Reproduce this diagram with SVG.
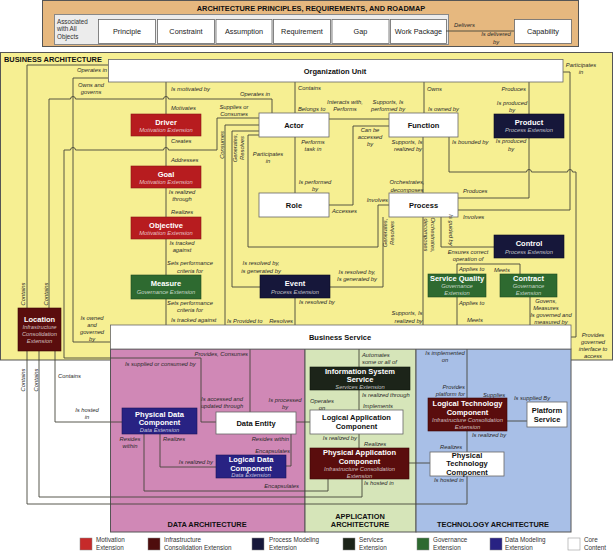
<svg xmlns="http://www.w3.org/2000/svg" width="614" height="552" viewBox="0 0 614 552">
<style>
.ln{fill:none;stroke:#45453a;stroke-width:0.9}
.lb{font-family:"Liberation Sans",Arial,sans-serif;font-style:italic;font-size:5.8px;fill:#2a2a2a}
.m{text-anchor:middle}
.e{text-anchor:end}
.nt{font-family:"Liberation Sans",Arial,sans-serif;font-weight:bold;font-size:7.5px;text-anchor:middle}
.ns{font-family:"Liberation Sans",Arial,sans-serif;font-style:italic;font-size:5.8px;text-anchor:middle}
.tx{font-family:"Liberation Sans",Arial,sans-serif;font-size:7.3px;text-anchor:middle;fill:#222}
.ti{font-family:"Liberation Sans",Arial,sans-serif;font-weight:bold;font-size:7.4px;fill:#111}
.lg{font-family:"Liberation Sans",Arial,sans-serif;font-size:6.3px;fill:#333}
.w{fill:#fff}
.k{fill:#111}
.sub{fill:#fff;fill-opacity:0.72}
.core{fill:#fff;stroke:#666;stroke-width:0.8}
.mot{fill:#b71c1f;stroke:#8a1416;stroke-width:0.6}
.inf{fill:#5a0d0d;stroke:#3a0606;stroke-width:0.6}
.pro{fill:#16173a;stroke:#0b0c22;stroke-width:0.6}
.gov{fill:#2e6a30;stroke:#1f4a21;stroke-width:0.6}
.svc{fill:#1c2419;stroke:#0e140c;stroke-width:0.6}
.dat{fill:#282283;stroke:#18145a;stroke-width:0.6}
</style>

<g id="principles">
<rect x="42.5" y="0.5" width="536" height="46" fill="#e6b87f" stroke="#555"/>
<text x="311" y="10.5" class="ti" text-anchor="middle">ARCHITECTURE PRINCIPLES, REQUIREMENTS, AND ROADMAP</text>
<rect x="54.5" y="14.5" width="394" height="30" fill="#ececec" stroke="#888"/>
<text x="57" y="24" class="lg">Associated</text>
<text x="57" y="31" class="lg">with All</text>
<text x="57" y="38.5" class="lg">Objects</text>
</g>
<g id="principle"><rect x="98.5" y="19.5" width="57" height="24" class="core"/><text x="127" y="34" class="tx">Principle</text></g>
<g id="constraint"><rect x="157.5" y="19.5" width="57" height="24" class="core"/><text x="186" y="34" class="tx">Constraint</text></g>
<g id="assumption"><rect x="216" y="19.5" width="56" height="24" class="core"/><text x="244" y="34" class="tx">Assumption</text></g>
<g id="requirement"><rect x="273.5" y="19.5" width="57" height="24" class="core"/><text x="302" y="34" class="tx">Requirement</text></g>
<g id="gap"><rect x="332" y="19.5" width="57" height="24" class="core"/><text x="360.5" y="34" class="tx">Gap</text></g>
<g id="workpackage"><rect x="390.5" y="19.5" width="56" height="24" class="core"/><text x="418.5" y="34" class="tx">Work Package</text></g>
<g id="capability"><rect x="514.5" y="19.5" width="57" height="24" class="core"/><text x="543" y="34" class="tx">Capability</text></g>

<g id="regions">
<rect x="0.5" y="52.5" width="612" height="307.5" fill="#f6ef92" stroke="#555"/>
<text x="4" y="62" class="ti">BUSINESS ARCHITECTURE</text>
<rect x="110.5" y="349" width="194.5" height="183" fill="#d088b6" stroke="#555"/>
<rect x="305" y="349" width="111" height="183" fill="#d6e5b9" stroke="#555"/>
<rect x="416" y="349" width="155" height="183" fill="#a8bfe7" stroke="#555"/>
<text x="207" y="527" class="ti" text-anchor="middle">DATA ARCHITECTURE</text>
<text x="360" y="519" class="ti" text-anchor="middle">APPLICATION</text>
<text x="360" y="527" class="ti" text-anchor="middle">ARCHITECTURE</text>
<text x="493" y="527" class="ti" text-anchor="middle">TECHNOLOGY ARCHITECTURE</text>
</g>

<g id="connectors">
<path class="ln" d="M446,31 H514"/>
<path class="ln" d="M108,65 H27 V308"/>
<path class="ln" d="M108,78 H73 V342 H110"/>
<path class="ln" d="M272,113 V99 H168.5 a2.5,2.5 0 0 0 -5,0 H75.5 a2.5,2.5 0 0 0 -5,0 H49 V308"/>
<path class="ln" d="M166,82 V325"/>
<path class="ln" d="M259,118 H217 V150 H168.5 a2.5,2.5 0 0 0 -5,0 H75.5 a2.5,2.5 0 0 0 -5,0 H64 V358 H201 V422 H216"/>
<path class="ln" d="M259,125 H225 V325"/>
<path class="ln" d="M259,131 H232 V287 H260"/>
<path class="ln" d="M259,135 H248 V247 H378 V205 H389"/>
<path class="ln" d="M295,82 V113"/>
<path class="ln" d="M295,137 V193"/>
<path class="ln" d="M329,119 H389"/>
<path class="ln" d="M329,205 H353 V126 H389"/>
<path class="ln" d="M424,82 V113"/>
<path class="ln" d="M529,82 V114"/>
<path class="ln" d="M563,72 H570 V210 H458"/>
<path class="ln" d="M449,137 V172 H526.5 a2.5,2.5 0 0 1 5,0 H567.5 a2.5,2.5 0 0 1 5,0 H576 V337 H571"/>
<path class="ln" d="M529,138 V198 H458"/>
<path class="ln" d="M423,137 V193"/>
<path class="ln" d="M423,217 V325"/>
<path class="ln" d="M441,217 V247 H494"/>
<path class="ln" d="M383,217 V287 H330"/>
<path class="ln" d="M295,298 V325"/>
<path class="ln" d="M457,297 V325"/>
<path class="ln" d="M530,297 V325"/>
<path class="ln" d="M457,274 V264 H520 V274"/>
<path class="ln" d="M250,349 V412"/>
<path class="ln" d="M296,422 H310"/>
<path class="ln" d="M359,349 V367"/>
<path class="ln" d="M359,390 V410"/>
<path class="ln" d="M359,434 V448"/>
<path class="ln" d="M144,434 V491 H328 V479"/>
<path class="ln" d="M160,434 V467 H216"/>
<path class="ln" d="M55,351 V422 H122"/>
<path class="ln" d="M39,351 V497 H362 V479"/>
<path class="ln" d="M27,351 V504 H467 V476"/>
<path class="ln" d="M467,349 V398"/>
<path class="ln" d="M507,421 H527"/>
<path class="ln" d="M467,431 V452"/>
<path class="ln" d="M409,463 H430"/>
<path class="ln" d="M291,434 V466 H286"/>
</g>

<g id="orgunit"><rect x="108.5" y="59.5" width="454.5" height="22.5" class="core"/><text x="335" y="74" class="nt k">Organization Unit</text></g>
<g id="driver"><rect x="131" y="114" width="70" height="22" class="mot"/><text x="166" y="124.5" class="nt w">Driver</text><text x="166" y="132.3" class="ns sub">Motivation Extension</text></g>
<g id="goal"><rect x="131" y="166" width="70" height="22" class="mot"/><text x="166" y="176.5" class="nt w">Goal</text><text x="166" y="184.3" class="ns sub">Motivation Extension</text></g>
<g id="objective"><rect x="131" y="217" width="70" height="22" class="mot"/><text x="166" y="227.5" class="nt w">Objective</text><text x="166" y="235.3" class="ns sub">Motivation Extension</text></g>
<g id="measure"><rect x="131" y="275" width="70" height="24" class="gov"/><text x="166" y="286" class="nt w">Measure</text><text x="166" y="294" class="ns sub">Governance Extension</text></g>
<g id="location"><rect x="18" y="308" width="43" height="43" class="inf"/><text x="39.5" y="321.5" class="nt w">Location</text><text x="39.5" y="329" class="ns sub">Infrastructure</text><text x="39.5" y="336" class="ns sub">Consolidation</text><text x="39.5" y="343" class="ns sub">Extension</text></g>
<g id="actor"><rect x="259" y="113" width="70" height="24" class="core"/><text x="294" y="128" class="nt k">Actor</text></g>
<g id="function"><rect x="389" y="113" width="69" height="24" class="core"/><text x="423.5" y="128" class="nt k">Function</text></g>
<g id="product"><rect x="494" y="114" width="70" height="24" class="pro"/><text x="529" y="124.5" class="nt w">Product</text><text x="529" y="132" class="ns sub">Process Extension</text></g>
<g id="role"><rect x="259" y="193" width="70" height="24" class="core"/><text x="294" y="208" class="nt k">Role</text></g>
<g id="process"><rect x="389" y="193" width="69" height="24" class="core"/><text x="423.5" y="208" class="nt k">Process</text></g>
<g id="control"><rect x="494" y="235" width="70" height="23" class="pro"/><text x="529" y="245.5" class="nt w">Control</text><text x="529" y="253.5" class="ns sub">Process Extension</text></g>
<g id="event"><rect x="260" y="275" width="70" height="23" class="pro"/><text x="295" y="285.5" class="nt w">Event</text><text x="295" y="293.5" class="ns sub">Process Extension</text></g>
<g id="servicequality"><rect x="428" y="274" width="58" height="23" class="gov"/><text x="457" y="281.3" class="nt w">Service Quality</text><text x="457" y="288.3" class="ns sub">Governance</text><text x="457" y="294.8" class="ns sub">Extension</text></g>
<g id="contract"><rect x="500" y="274" width="57" height="23" class="gov"/><text x="528.5" y="281.3" class="nt w">Contract</text><text x="528.5" y="288.3" class="ns sub">Governance</text><text x="528.5" y="294.8" class="ns sub">Extension</text></g>
<g id="businessservice"><rect x="110.5" y="325" width="460.5" height="24" class="core"/><text x="340" y="340" class="nt k">Business Service</text></g>
<g id="infosysservice"><rect x="310" y="367" width="100" height="23" class="svc"/><text x="360" y="373.5" class="nt w">Information System</text><text x="360" y="381.5" class="nt w">Service</text><text x="360" y="388.6" class="ns sub">Services Extension</text></g>
<g id="logicalappcomp"><rect x="310" y="410" width="93" height="24" class="core"/><text x="356.5" y="419.8" class="nt k">Logical Application</text><text x="356.5" y="428.5" class="nt k">Component</text></g>
<g id="physicalappcomp"><rect x="310" y="448" width="99" height="31" class="inf"/><text x="359.5" y="455.3" class="nt w">Physical Application</text><text x="359.5" y="463.8" class="nt w">Component</text><text x="359.5" y="471" class="ns sub">Infrastructure Consolidation</text><text x="359.5" y="477.5" class="ns sub">Extension</text></g>
<g id="physicaldatacomp"><rect x="122" y="408" width="75" height="26" class="dat"/><text x="159.5" y="416.5" class="nt w">Physical Data</text><text x="159.5" y="425.3" class="nt w">Component</text><text x="159.5" y="432.3" class="ns sub">Data Extension</text></g>
<g id="dataentity"><rect x="216" y="412" width="80" height="22" class="core"/><text x="256" y="425.5" class="nt k">Data Entity</text></g>
<g id="logicaldatacomp"><rect x="216" y="455" width="70" height="23" class="dat"/><text x="251" y="462" class="nt w">Logical Data</text><text x="251" y="470.5" class="nt w">Component</text><text x="251" y="477" class="ns sub">Data Extension</text></g>
<g id="logicaltechcomp"><rect x="428" y="398" width="79" height="33" class="inf"/><text x="467.5" y="406" class="nt w">Logical Technology</text><text x="467.5" y="414.5" class="nt w">Component</text><text x="467.5" y="421.8" class="ns sub">Infrastructure Consolidation</text><text x="467.5" y="428.5" class="ns sub">Extension</text></g>
<g id="platformservice"><rect x="527" y="402" width="40" height="25" class="core"/><text x="547" y="412.5" class="nt k">Platform</text><text x="547" y="422" class="nt k">Service</text></g>
<g id="physicaltechcomp"><rect x="430" y="452" width="74" height="24" class="core"/><text x="467" y="457.5" class="nt k">Physical</text><text x="467" y="466" class="nt k">Technology</text><text x="467" y="474.5" class="nt k">Component</text></g>

<g id="labels">
<text x="454" y="27" class="lb">Delivers</text>
<text x="496" y="36" class="lb m">Is delivered</text>
<text x="496" y="43.5" class="lb m">by</text>
<text x="77" y="72" class="lb">Operates in</text>
<text x="91" y="87" class="lb m">Owns and</text>
<text x="91" y="94" class="lb m">governs</text>
<text x="171" y="91" class="lb">Is motivated by</text>
<text x="171" y="110" class="lb">Motivates</text>
<text x="171" y="143" class="lb">Creates</text>
<text x="171" y="162" class="lb">Addresses</text>
<text x="182" y="194" class="lb m">Is realized</text>
<text x="182" y="200.5" class="lb m">through</text>
<text x="171" y="214" class="lb">Realizes</text>
<text x="182" y="245" class="lb m">Is tracked</text>
<text x="182" y="252" class="lb m">against</text>
<text x="190" y="265" class="lb m">Sets performance</text>
<text x="190" y="272.5" class="lb m">criteria for</text>
<text x="190" y="305" class="lb m">Sets performance</text>
<text x="190" y="311.5" class="lb m">criteria for</text>
<text x="171" y="322" class="lb">Is tracked against</text>
<text x="270" y="96" class="lb e">Operates in</text>
<text x="234" y="109" class="lb m">Supplies or</text>
<text x="234" y="115.5" class="lb m">Consumes</text>
<text x="298" y="90" class="lb">Contains</text>
<text x="298" y="111" class="lb">Belongs to</text>
<text x="345" y="104" class="lb m">Interacts with,</text>
<text x="345" y="111" class="lb m">Performs</text>
<text x="388" y="104" class="lb m">Supports, Is</text>
<text x="388" y="111" class="lb m">performed by</text>
<text x="427" y="91" class="lb">Owns</text>
<text x="428" y="111" class="lb">Is owned by</text>
<text x="526" y="91" class="lb e">Produces</text>
<text x="512" y="105" class="lb m">Is produced</text>
<text x="512" y="112" class="lb m">by</text>
<text x="581" y="67" class="lb m">Participates</text>
<text x="581" y="73.5" class="lb m">in</text>
<text x="224" y="145" class="lb m" transform="rotate(-90 224 145)">Consumes</text>
<text x="236.5" y="148" class="lb m" transform="rotate(-90 236.5 148)">Generates,</text>
<text x="243.5" y="148" class="lb m" transform="rotate(-90 243.5 148)">Resolves</text>
<text x="268" y="156" class="lb m">Participates</text>
<text x="268" y="163" class="lb m">in</text>
<text x="313" y="144" class="lb m">Performs</text>
<text x="313" y="150.5" class="lb m">task in</text>
<text x="315" y="184" class="lb m">Is performed</text>
<text x="315" y="191" class="lb m">by</text>
<text x="332" y="213" class="lb">Accesses</text>
<text x="370" y="132" class="lb m">Can be</text>
<text x="370" y="139" class="lb m">accessed</text>
<text x="370" y="145.5" class="lb m">by</text>
<text x="388" y="202" class="lb e">Involves</text>
<text x="407" y="144" class="lb m">Supports, Is</text>
<text x="408" y="151" class="lb m">realized by</text>
<text x="407" y="184" class="lb m">Orchestrates,</text>
<text x="407" y="192" class="lb m">decomposes</text>
<text x="452" y="144" class="lb">Is bounded by</text>
<text x="511" y="143" class="lb m">Is produced</text>
<text x="511" y="150.5" class="lb m">by</text>
<text x="463" y="193" class="lb">Produces</text>
<text x="463" y="219" class="lb">Involves</text>
<text x="387" y="233" class="lb m" transform="rotate(-90 387 233)">Generates,</text>
<text x="394" y="233" class="lb m" transform="rotate(-90 394 233)">Resolves</text>
<text x="431" y="235" class="lb m" transform="rotate(90 431 235)">Orchestrates,</text>
<text x="424" y="235" class="lb m" transform="rotate(90 424 235)">decomposes</text>
<text x="448.5" y="230" class="lb m" transform="rotate(90 448.5 230)">Is guided by</text>
<text x="468" y="254" class="lb m">Ensures correct</text>
<text x="468" y="260.5" class="lb m">operation of</text>
<text x="459" y="271" class="lb">Applies to</text>
<text x="494" y="272" class="lb">Meets</text>
<text x="261" y="265" class="lb m">Is resolved by,</text>
<text x="261" y="272.5" class="lb m">is generated by</text>
<text x="357" y="274" class="lb m">Is resolved by,</text>
<text x="357" y="281" class="lb m">Is generated by</text>
<text x="299" y="304" class="lb">Is resolved by</text>
<text x="227" y="323" class="lb">Is Provided to</text>
<text x="293" y="323" class="lb e">Resolves</text>
<text x="407" y="315" class="lb m">Supports, Is</text>
<text x="408.5" y="323" class="lb m">realized by</text>
<text x="459" y="305" class="lb">Applies to</text>
<text x="467" y="322" class="lb">Meets</text>
<text x="546" y="303" class="lb m">Govens,</text>
<text x="546" y="310" class="lb m">Measures</text>
<text x="551" y="317" class="lb m">Is governed and</text>
<text x="551" y="324" class="lb m">measured by</text>
<text x="593" y="337" class="lb m">Provides</text>
<text x="593" y="344" class="lb m">governed</text>
<text x="593" y="351" class="lb m">interface to</text>
<text x="593" y="358" class="lb m">access</text>
<text x="25" y="294" class="lb m" transform="rotate(-90 25 294)">Contains</text>
<text x="48" y="294" class="lb m" transform="rotate(-90 48 294)">Contains</text>
<text x="92" y="320" class="lb m">Is owned</text>
<text x="92" y="327" class="lb m">and</text>
<text x="92" y="334" class="lb m">governed</text>
<text x="92" y="341" class="lb m">by</text>
<text x="25" y="380" class="lb m" transform="rotate(-90 25 380)">Contains</text>
<text x="37.5" y="380" class="lb m" transform="rotate(-90 37.5 380)">Contains</text>
<text x="58" y="378" class="lb">Contains</text>
<text x="87" y="412" class="lb m">Is hosted</text>
<text x="87" y="419" class="lb m">in</text>
<text x="248" y="356" class="lb e">Provides, Consumes</text>
<text x="125" y="366" class="lb">Is supplied or consumed by</text>
<text x="222" y="401" class="lb m">Is accessed and</text>
<text x="222" y="408" class="lb m">updated through</text>
<text x="285" y="402" class="lb m">Is processed</text>
<text x="285" y="409" class="lb m">by</text>
<text x="322" y="403" class="lb m">Operates</text>
<text x="322" y="410" class="lb m">on</text>
<text x="130" y="441" class="lb m">Resides</text>
<text x="130" y="448" class="lb m">within</text>
<text x="163" y="441" class="lb">Realizes</text>
<text x="213" y="464" class="lb e">Is realized by</text>
<text x="289" y="441" class="lb e">Resides within</text>
<text x="290" y="453" class="lb e">Encapsulates</text>
<text x="299" y="488" class="lb e">Encapsulates</text>
<text x="362" y="357" class="lb">Automates</text>
<text x="362" y="364" class="lb">some or all of</text>
<text x="362" y="397" class="lb">Is realized through</text>
<text x="363" y="408" class="lb">Implements</text>
<text x="357" y="440" class="lb e">Is realized by</text>
<text x="364" y="446" class="lb">Realizes</text>
<text x="364" y="485" class="lb">Is hosted in</text>
<text x="445" y="355" class="lb m">Is implemented</text>
<text x="445" y="362" class="lb m">on</text>
<text x="465" y="389" class="lb e">Provides</text>
<text x="465" y="396" class="lb e">platform for</text>
<text x="483" y="397" class="lb">Supplies</text>
<text x="514" y="400" class="lb">Is supplied By</text>
<text x="472" y="437" class="lb">Is realized by</text>
<text x="440" y="449" class="lb">Realizes</text>
<text x="434" y="482" class="lb">Is hosted in</text>
</g>

<g id="legend">
<rect x="80" y="538" width="12" height="12" fill="#c62a2a" stroke="#888" stroke-width="0.5"/>
<text x="96" y="541.5" class="lg">Motivation</text><text x="96" y="549.5" class="lg">Extension</text>
<rect x="148" y="538" width="12" height="12" fill="#4e0d0d" stroke="#888" stroke-width="0.5"/>
<text x="164" y="541.5" class="lg">Infrastructure</text><text x="164" y="549.5" class="lg">Consolidation Extension</text>
<rect x="252" y="538" width="12" height="12" fill="#16173a" stroke="#888" stroke-width="0.5"/>
<text x="269" y="541.5" class="lg">Process Modeling</text><text x="269" y="549.5" class="lg">Extension</text>
<rect x="343" y="538" width="12" height="12" fill="#1c2419" stroke="#888" stroke-width="0.5"/>
<text x="359" y="541.5" class="lg">Services</text><text x="359" y="549.5" class="lg">Extension</text>
<rect x="417" y="538" width="12" height="12" fill="#2e6a30" stroke="#888" stroke-width="0.5"/>
<text x="433" y="541.5" class="lg">Governance</text><text x="433" y="549.5" class="lg">Extension</text>
<rect x="490" y="538" width="12" height="12" fill="#282283" stroke="#888" stroke-width="0.5"/>
<text x="505" y="541.5" class="lg">Data Modeling</text><text x="505" y="549.5" class="lg">Extension</text>
<rect x="568" y="538" width="12" height="12" fill="#fff" stroke="#999" stroke-width="0.6"/>
<text x="584" y="541.5" class="lg">Core</text><text x="584" y="549.5" class="lg">Content</text>
</g>
</svg>
